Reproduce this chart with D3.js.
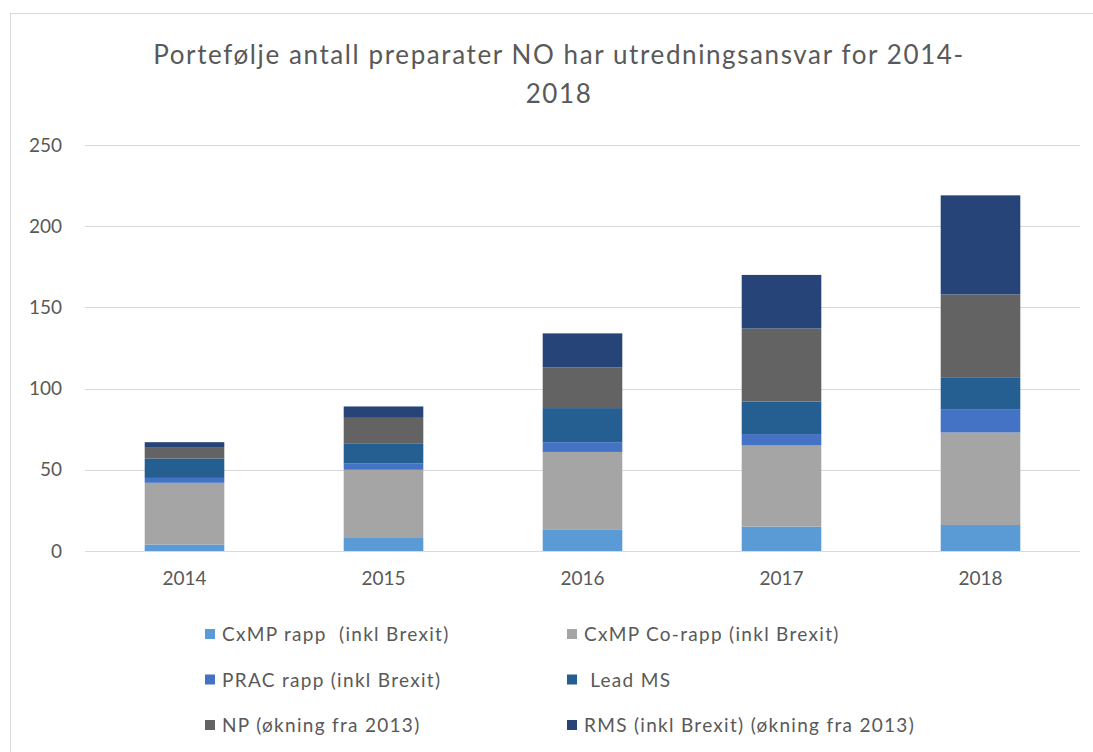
<!DOCTYPE html>
<html lang="no">
<head>
<meta charset="utf-8">
<title>Portefølje</title>
<script src="https://cdn.jsdelivr.net/npm/d3@7"></script>
<style>
  body { margin: 0; background: #fff; }
  svg text { font-family: Lato, "Open Sans", sans-serif; fill: #595959; }
</style>
</head>
<body>
<script>
// data
var years = ["2014", "2015", "2016", "2017", "2018"];
var seriesNames = ["CxMP rapp  (inkl Brexit)", "CxMP Co-rapp (inkl Brexit)", "PRAC rapp (inkl Brexit)",
                   " Lead MS", "NP (økning fra 2013)", "RMS (inkl Brexit) (økning fra 2013)"];
var seriesColors = ["#5B9BD5", "#A5A5A5", "#4472C4", "#255E91", "#636363", "#264478"];
var cxmpRapp = [4, 8, 13, 15, 16];
var cxmpCoRapp = [38, 42, 48, 50, 57];
var pracRapp = [3, 4, 6, 7, 14];
var leadMS = [12, 12, 21, 20, 20];
var npOkning = [7, 16, 25, 45, 51];
var rmsOkning = [3, 7, 21, 33, 61];
var yTicks = [0, 50, 100, 150, 200, 250];

var allSeries = [cxmpRapp, cxmpCoRapp, pracRapp, leadMS, npOkning, rmsOkning];

var w = 1093, h = 752;

var svg = d3.select("body").append("svg")
    .attr("width", w)
    .attr("height", h);

// chart frame
svg.append("rect")
    .attr("x", 10.5).attr("y", 13.5)
    .attr("width", w + 10).attr("height", h + 10)
    .attr("fill", "#fff")
    .attr("stroke", "#D9D9D9");

// title
svg.append("text")
    .attr("x", 559).attr("y", 64)
    .attr("text-anchor", "middle")
    .attr("font-size", "26px")
    .attr("letter-spacing", "1.6px")
    .text("Portefølje antall preparater NO har utredningsansvar for 2014-");
svg.append("text")
    .attr("x", 559).attr("y", 103)
    .attr("text-anchor", "middle")
    .attr("font-size", "26px")
    .attr("letter-spacing", "1.6px")
    .text("2018");

var xScale = d3.scaleBand()
    .domain(years)
    .range([85, 1080])
    .paddingInner(0.6)
    .paddingOuter(0.3);

var yScale = d3.scaleLinear()
    .domain([0, 250])
    .range([551, 145]);

// gridlines
svg.append("g").selectAll("line")
    .data(yTicks)
    .enter()
    .append("line")
    .attr("x1", 85).attr("x2", 1080)
    .attr("y1", function(d) { return Math.round(yScale(d)) + 0.5; })
    .attr("y2", function(d) { return Math.round(yScale(d)) + 0.5; })
    .attr("stroke", "#D9D9D9")
    .attr("stroke-width", 1);

// y axis labels
var yAxis = d3.axisLeft(yScale).tickValues(yTicks).tickSize(0).tickPadding(0);
var gy = svg.append("g")
    .attr("transform", "translate(62,0)")
    .call(yAxis);
gy.select(".domain").remove();
gy.selectAll("text").attr("font-size", "19px").style("font-family", "Lato, sans-serif").attr("fill", "#595959");

// stacked bars
var table = years.map(function(y, i) {
  var row = { year: y };
  allSeries.forEach(function(s, k) { row["s" + k] = s[i]; });
  return row;
});
var keys = allSeries.map(function(s, k) { return "s" + k; });
var stacked = d3.stack().keys(keys)(table);

svg.append("g").selectAll("g")
    .data(stacked)
    .enter()
    .append("g")
    .attr("fill", function(d, k) { return seriesColors[k]; })
    .selectAll("rect")
    .data(function(d) { return d; })
    .enter()
    .append("rect")
    .attr("x", function(d) { return xScale(d.data.year); })
    .attr("y", function(d) { return yScale(d[1]); })
    .attr("width", xScale.bandwidth())
    .attr("height", function(d) { return yScale(d[0]) - yScale(d[1]); });

// x axis labels
var xAxis = d3.axisBottom(xScale).tickSize(0).tickPadding(0);
var gx = svg.append("g")
    .attr("transform", "translate(0,571)")
    .call(xAxis);
gx.select(".domain").remove();
gx.selectAll("text").attr("font-size", "19px").style("font-family", "Lato, sans-serif").attr("fill", "#595959");

// legend, two columns
var legend = svg.append("g").selectAll("g")
    .data(seriesNames)
    .enter()
    .append("g")
    .attr("transform", function(d, i) {
      var col = i % 2, row = Math.floor(i / 2);
      return "translate(" + (col === 0 ? 205 : 567) + "," + (634 + row * 45.5) + ")";
    });
legend.append("rect")
    .attr("x", 0).attr("y", -5)
    .attr("width", 10).attr("height", 10)
    .attr("fill", function(d, i) { return seriesColors[i]; });
legend.append("text")
    .attr("x", 17).attr("y", 7)
    .attr("font-size", "19px")
    .attr("letter-spacing", "1.3px")
    .style("white-space", "pre")
    .text(function(d) { return d; });
</script>
</body>
</html>
